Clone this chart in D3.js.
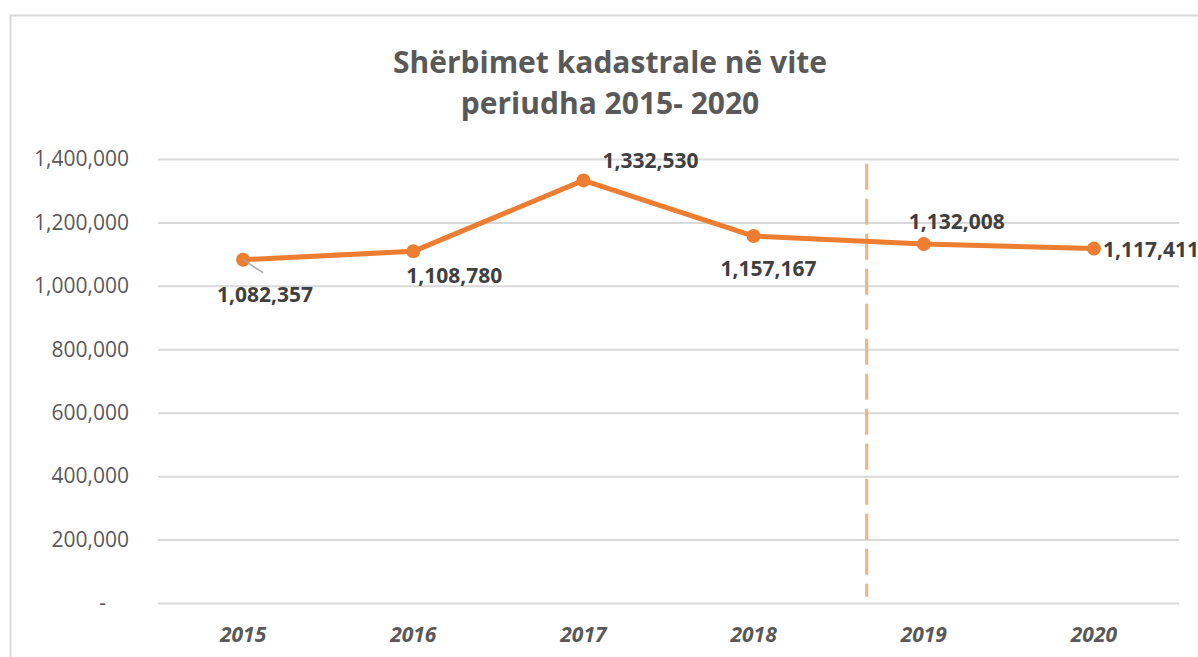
<!DOCTYPE html>
<html>
<head>
<meta charset="utf-8">
<script src="https://cdn.jsdelivr.net/npm/d3@7"></script>
<style>
  body { margin: 0; background: #fff; }
  svg { display: block; font-family: "Open Sans", sans-serif; }
</style>
</head>
<body>
<svg id="chart" width="1198" height="657"></svg>
<script>
'use strict';

const years = ["2015", "2016", "2017", "2018", "2019", "2020"];
const services = [1082357, 1108780, 1332530, 1157167, 1132008, 1117411];
const yTicks = [0, 200000, 400000, 600000, 800000, 1000000, 1200000, 1400000];
const titleLines = ["Shërbimet kadastrale në vite", "periudha 2015- 2020"];
// where each data label sits relative to its point
const labelSpots = ["below", "belowRight", "aboveRight", "belowLeft", "above", "right"];

const width = 1198, height = 657;
const margin = {top: 159, right: 19, bottom: 54, left: 158};

const svg = d3.select("#chart");

// chart frame (runs off the right and bottom edges)
svg.append("rect")
  .attr("x", 10.5).attr("y", 15.5)
  .attr("width", 1220).attr("height", 700)
  .attr("fill", "#fff")
  .attr("stroke", "#d9d9d9")
  .attr("stroke-width", 2);

const x = d3.scaleBand()
  .domain(years)
  .range([margin.left, width - margin.right]);

const y = d3.scaleLinear()
  .domain([0, 1400000])
  .range([height - margin.bottom, margin.top]);

const fmt = d3.format(",");

// title
svg.append("g")
  .selectAll("text")
  .data(titleLines)
  .enter()
  .append("text")
  .attr("x", 610)
  .attr("y", (d, i) => 73 + i * 41)
  .attr("text-anchor", "middle")
  .attr("font-size", 30)
  .attr("font-weight", "bold")
  .attr("fill", "#595959")
  .text(d => d);

// y axis + gridlines
const yAxis = svg.append("g")
  .attr("transform", `translate(${margin.left},0)`)
  .call(d3.axisLeft(y)
    .tickValues(yTicks)
    .tickSize(-(width - margin.left - margin.right))
    .tickPadding(29)
    .tickFormat(d => d === 0 ? "-" : fmt(d)));

yAxis.select(".domain").remove();
yAxis.selectAll(".tick line")
  .attr("stroke", "#d9d9d9")
  .attr("stroke-width", 2);
yAxis.selectAll(".tick text")
  .attr("font-size", 21)
  .attr("fill", "#595959")
  .attr("font-family", "Open Sans, sans-serif")
  .attr("dx", d => d === 0 ? -23 : 0);

// x axis labels
const xAxis = svg.append("g")
  .attr("transform", `translate(0,${height - margin.bottom})`)
  .call(d3.axisBottom(x).tickSize(0).tickPadding(24));

xAxis.select(".domain").remove();
xAxis.selectAll(".tick text")
  .attr("font-size", 21)
  .attr("font-weight", "bold")
  .attr("font-style", "italic")
  .attr("fill", "#595959")
  .attr("font-family", "Open Sans, sans-serif");

// dashed divider between 2018 and 2019
const divX = x("2019") + 28;
svg.append("line")
  .attr("x1", divX).attr("x2", divX)
  .attr("y1", y(1385000)).attr("y2", y(20000))
  .attr("stroke", "#f4b183")
  .attr("stroke-width", 3)
  .attr("stroke-dasharray", "26 9");

const cx = d => x(d) + x.bandwidth() / 2;

// line + markers
const pts = years.map((yr, i) => ({year: yr, value: services[i], spot: labelSpots[i]}));

svg.append("path")
  .datum(pts)
  .attr("fill", "none")
  .attr("stroke", "#ed7d31")
  .attr("stroke-width", 5)
  .attr("stroke-linejoin", "round")
  .attr("d", d3.line().x(d => cx(d.year)).y(d => y(d.value)));

svg.append("g")
  .selectAll("circle")
  .data(pts)
  .enter()
  .append("circle")
  .attr("cx", d => cx(d.year))
  .attr("cy", d => y(d.value))
  .attr("r", 7)
  .attr("fill", "#ed7d31");

// leader line for the first label
svg.append("line")
  .attr("x1", cx("2015")).attr("y1", y(services[0]))
  .attr("x2", cx("2015") + 20).attr("y2", y(services[0]) + 13)
  .attr("stroke", "#a6a6a6")
  .attr("stroke-width", 1.5);

const offsets = {
  below:      [22, 42, "middle"],
  belowRight: [41, 32, "middle"],
  aboveRight: [19, -12, "start"],
  belowLeft:  [15, 40, "middle"],
  above:      [-15, -15, "start"],
  right:      [9, 8, "start"]
};

svg.append("g")
  .selectAll("text")
  .data(pts)
  .enter()
  .append("text")
  .attr("x", d => cx(d.year) + offsets[d.spot][0])
  .attr("y", d => y(d.value) + offsets[d.spot][1])
  .attr("text-anchor", d => offsets[d.spot][2])
  .attr("font-size", 21)
  .attr("font-weight", "bold")
  .attr("fill", "#404040")
  .text(d => fmt(d.value));
</script>
</body>
</html>
